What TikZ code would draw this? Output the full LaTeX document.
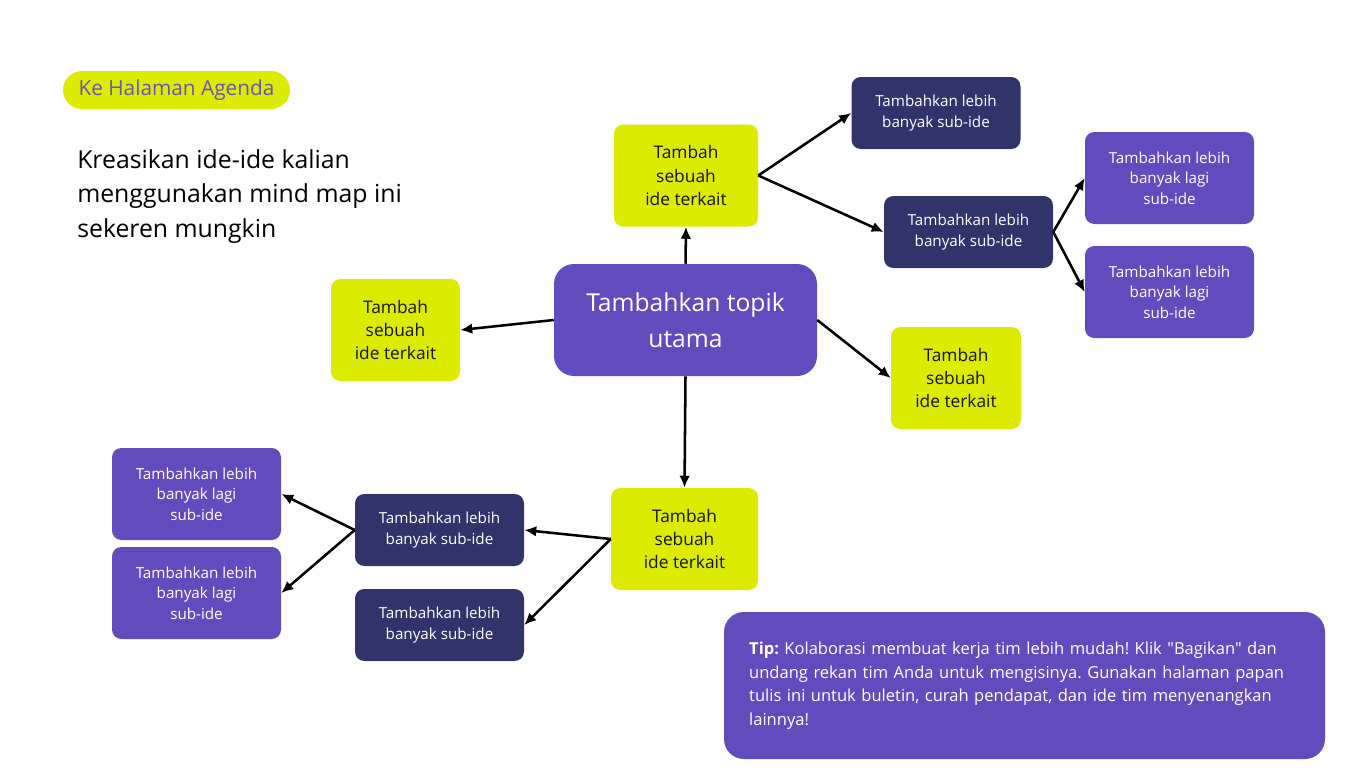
\documentclass[tikz,border=0pt]{standalone}
\usepackage{fontspec}
\setmainfont{Open Sans}[Ligatures=TeXOff]
\usetikzlibrary{arrows.meta}
\definecolor{lime}{RGB}{221,235,0}
\definecolor{violet}{RGB}{98,75,188}
\definecolor{navy}{RGB}{49,51,107}
\definecolor{agendatxt}{RGB}{106,82,194}
\definecolor{ink}{RGB}{20,20,20}
\frenchspacing
\tikzset{
  base/.style={rounded corners=7pt, align=center, inner sep=0pt},
  ybox/.style={base, fill=lime, text=ink, minimum height=76.5pt, font=\fontsize{13}{17.6}\selectfont},
  nbox/.style={base, fill=navy, text=white, minimum width=126.75pt, minimum height=54pt, font=\fontsize{11.4}{15.6}\selectfont},
  pbox/.style={base, fill=violet, text=white, minimum width=126.75pt, minimum height=69pt, font=\fontsize{11.4}{15.3}\selectfont},
  arr/.style={line width=1.9pt, -{Latex[length=9pt,width=8pt]}}
}
\begin{document}
\begin{tikzpicture}[x=0.75pt,y=-0.75pt]
\useasboundingbox[fill=white] (0,0) rectangle (1366,769);
% agenda pill
\node[base, fill=lime, rounded corners=14.25pt, minimum width=170.25pt, minimum height=28.5pt, text=agendatxt, font=\fontsize{15.6}{18}\selectfont] (agenda) at (176.5,90) {Ke Halaman Agenda};
% title
\node[anchor=north west, inner sep=0pt, align=left, text=black, font=\fontsize{18.6}{25.9}\selectfont] (title) at (77,149) {Kreasikan ide-ide kalian\\menggunakan mind map ini\\sekeren mungkin};
% central
\node[base, fill=violet, rounded corners=15pt, text=white, minimum width=197.25pt, minimum height=84pt, font=\fontsize{18.5}{27}\selectfont] (center) at (685.5,320) {Tambahkan topik\\utama};
% yellow
\node[ybox, minimum width=108pt] (yT) at (686,175.5) {Tambah\\sebuah\\ide terkait};
\node[ybox, minimum width=96.75pt] (yL) at (395.5,330) {Tambah\\sebuah\\ide terkait};
\node[ybox, minimum width=97.5pt] (yR) at (956,378) {Tambah\\sebuah\\ide terkait};
\node[ybox, minimum width=110.25pt] (yB) at (684.5,539) {Tambah\\sebuah\\ide terkait};
% navy
\node[nbox] (n1) at (936,113) {Tambahkan lebih\\banyak sub-ide};
\node[nbox] (n2) at (968.5,232) {Tambahkan lebih\\banyak sub-ide};
\node[nbox] (nL1) at (439.5,530) {Tambahkan lebih\\banyak sub-ide};
\node[nbox] (nL2) at (439.5,625) {Tambahkan lebih\\banyak sub-ide};
% purple
\node[pbox] (p1) at (1169.5,178) {Tambahkan lebih\\banyak lagi\\sub-ide};
\node[pbox] (p2) at (1169.5,292) {Tambahkan lebih\\banyak lagi\\sub-ide};
\node[pbox] (pL1) at (196.5,494) {Tambahkan lebih\\banyak lagi\\sub-ide};
\node[pbox] (pL2) at (196.5,593) {Tambahkan lebih\\banyak lagi\\sub-ide};
% tip
\node[base, fill=violet, rounded corners=15pt, text=white, minimum width=450.75pt, minimum height=110.25pt, text width=413pt, align=left, inner xsep=18.75pt, font=\fontsize{12.4}{17.6}\selectfont] (tip) at (1024.5,685.5) {\textbf{Tip:} Kolaborasi membuat kerja tim lebih mudah! Klik "Bagikan" dan\\undang rekan tim Anda untuk mengisinya. Gunakan halaman papan\\tulis ini untuk buletin, curah pendapat, dan ide tim menyenangkan\\lainnya!};
% arrows
\draw[arr] (center.north) -- (yT.south);
\draw[arr] (center.west) -- (yL.east);
\draw[arr] (center.east) -- (yR.west);
\draw[arr] (center.south) -- (yB.north);
\draw[arr] (yT.east) -- (n1.west);
\draw[arr] (yT.east) -- (n2.west);
\draw[arr] (n2.east) -- (p1.west);
\draw[arr] (n2.east) -- (p2.west);
\draw[arr] (yB.west) -- (nL1.east);
\draw[arr] (yB.west) -- (nL2.east);
\draw[arr] (nL1.west) -- (pL1.east);
\draw[arr] (nL1.west) -- (pL2.east);
\end{tikzpicture}
\end{document}
